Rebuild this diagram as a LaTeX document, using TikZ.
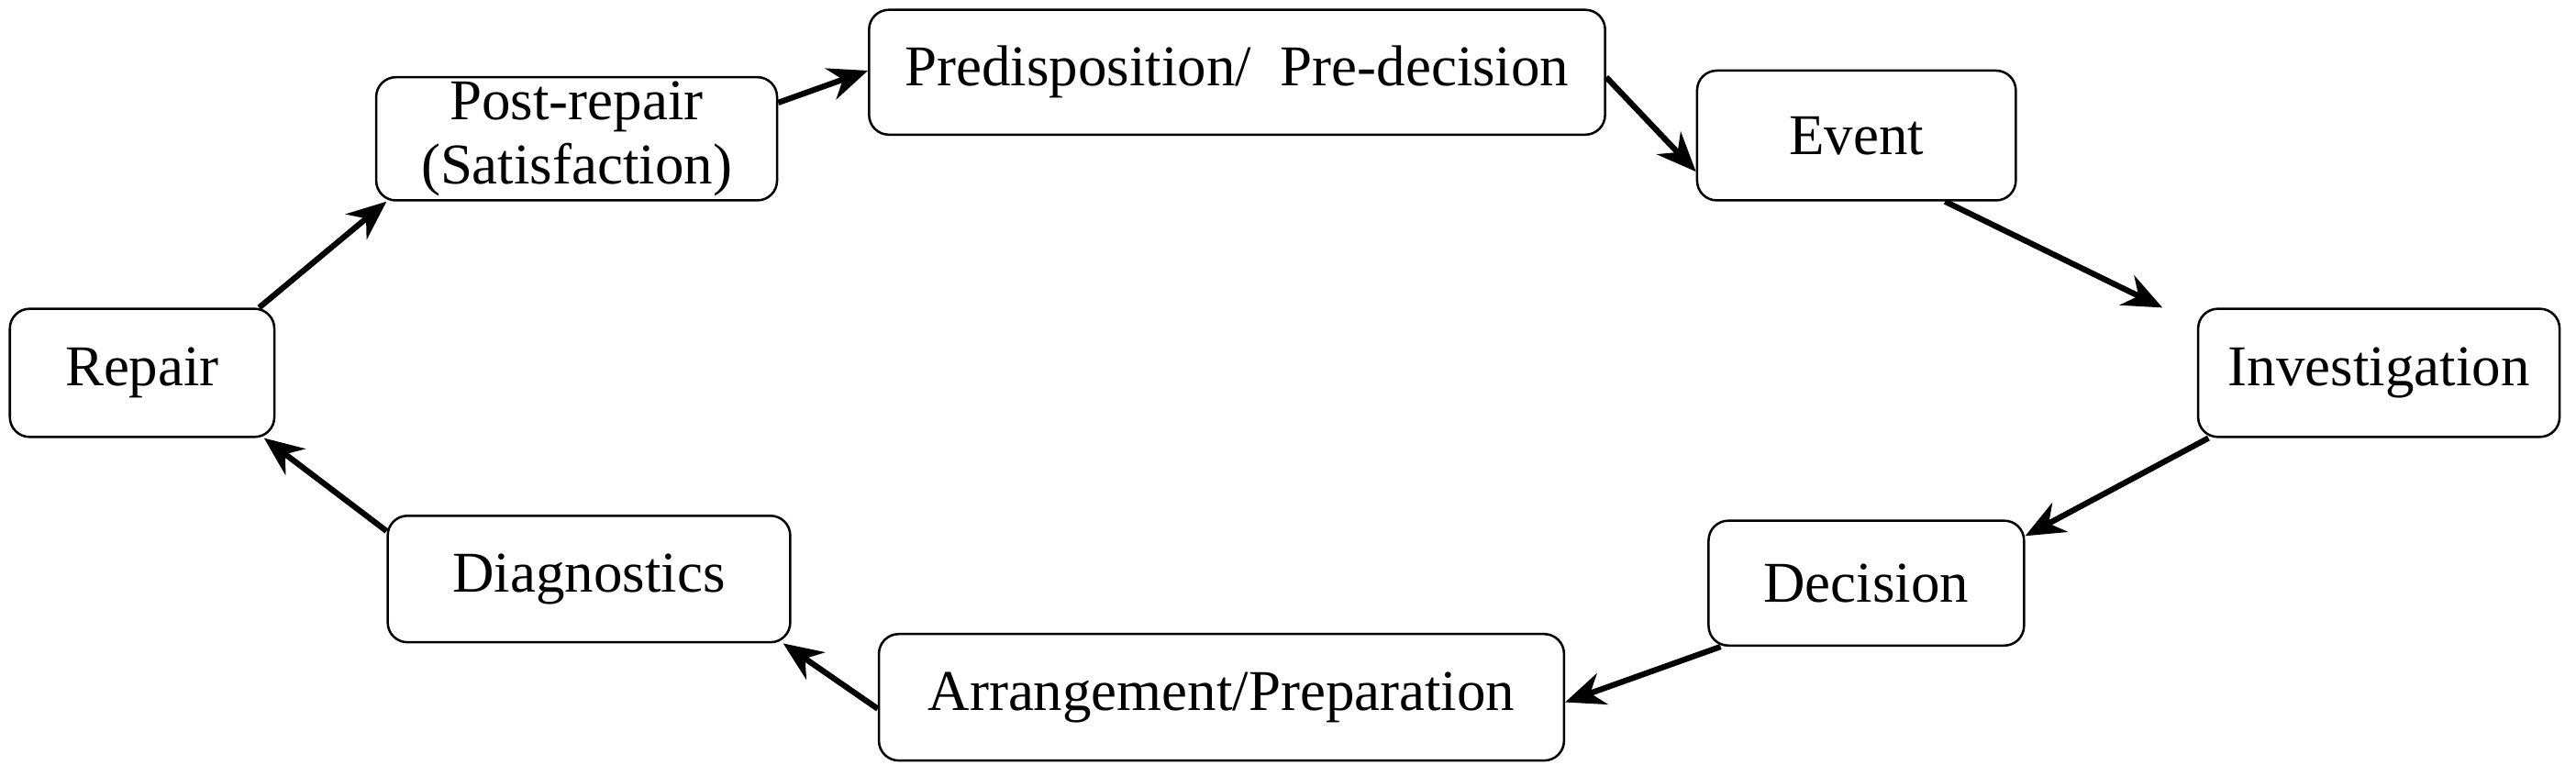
\documentclass[tikz,border=0pt]{standalone}
\usepackage{fontspec}
\setmainfont{Liberation Serif}
\usetikzlibrary{arrows.meta,positioning}
\tikzset{
    stage/.style={draw,rounded corners=1.2mm,thin,inner sep=0pt,align=center,font=\fontsize{10}{11}\selectfont},
    arr/.style={-{Stealth[length=2.4mm,width=2mm]},line width=1pt},
}
\begin{document}
\begin{tikzpicture}[x=1mm,y=-1mm]
    \useasboundingbox (0,0) rectangle (156.8,47.2);
    % stages, clockwise from the top
    \node[stage,minimum width=44.8mm,minimum height=7.6mm] (pre) at (75.3,4.4) {Predisposition/\ \ Pre-decision};
    \node[stage,minimum width=19.4mm,minimum height=7.9mm] (ev) at (113,8.25) {Event};
    \node[stage,minimum width=22mm,minimum height=7.8mm] (inv) at (144.8,22.7) {Investigation};
    \node[stage,minimum width=19.2mm,minimum height=7.6mm] (dec) at (113.6,35.5) {Decision};
    \node[stage,minimum width=41.7mm,minimum height=7.7mm] (arr) at (74.35,42.45) {Arrangement/Preparation};
    \node[stage,minimum width=24.5mm,minimum height=7.7mm] (diag) at (35.85,35.25) {Diagnostics};
    \node[stage,minimum width=16.1mm,minimum height=7.8mm] (rep) at (8.65,22.7) {Repair};
    \node[stage,minimum width=24.4mm,minimum height=7.5mm] (post) at (35.1,8.45) {Post-repair\\(Satisfaction)};

    \draw[arr] ([yshift=2.2mm]post.east) -- ([yshift=0.1mm]pre.west);
    \draw[arr] ([yshift=-0.3mm]pre.east) -- ([yshift=-2.2mm]ev.west);
    \draw[arr] ([xshift=5.4mm]ev.south) -- ([xshift=-2.1mm]inv.north west);
    \draw[arr] ([xshift=0.7mm]inv.south west) -- ([yshift=-1mm]dec.north east);
    \draw[arr] ([xshift=0.8mm]dec.south west) -- ([yshift=-0.3mm]arr.east);
    \draw[arr] ([yshift=-0.7mm]arr.west) -- ([xshift=-0.5mm]diag.south east);
    \draw[arr] ([yshift=-1mm]diag.north west) -- ([xshift=-0.7mm]rep.south east);
    \draw[arr] ([xshift=-1mm]rep.north east) -- ([xshift=0.7mm]post.south west);
\end{tikzpicture}
\end{document}
